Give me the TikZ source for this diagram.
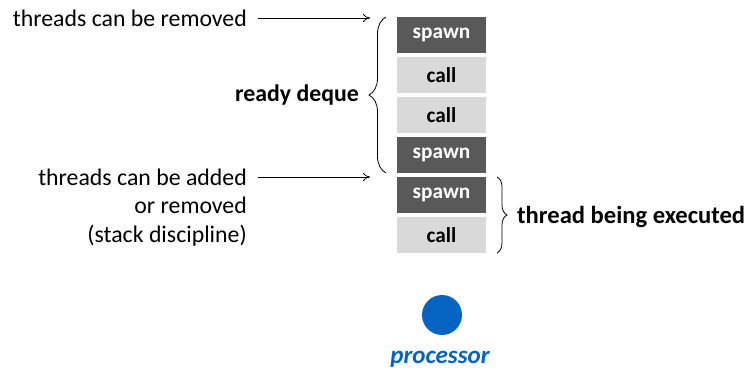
\documentclass[tikz,border=0pt]{standalone}
\usepackage{fontspec}
\setmainfont{Carlito}
\usetikzlibrary{decorations.pathreplacing,arrows.meta}
\definecolor{darkbox}{HTML}{595959}
\definecolor{lightbox}{HTML}{D9D9D9}
\definecolor{procblue}{HTML}{0563C1}
\begin{document}
\begin{tikzpicture}[x=1pt,y=-1pt,
  stackbox/.style={minimum width=89pt,minimum height=36pt,inner sep=0pt,font=\fontsize{21.3}{24}\selectfont\bfseries},
  darkstack/.style={stackbox,fill=darkbox,text=white},
  lightstack/.style={stackbox,fill=lightbox,text=black},
  lbl/.style={inner sep=0pt,font=\fontsize{23.8}{28.5}\selectfont},
  blbl/.style={inner sep=0pt,font=\fontsize{23.8}{28.5}\selectfont\bfseries},
  arr/.style={-{To[length=7pt,width=8pt]},line width=0.8pt},
  brc/.style={decorate,decoration={brace},line width=0.8pt}]
\useasboundingbox (0,0) rectangle (749,372);
\node[darkstack]  (b1) at (441.5,35)  {spawn};
\node[lightstack] (b2) at (441.5,75)  {call};
\node[lightstack] (b3) at (441.5,115) {call};
\node[darkstack]  (b4) at (441.5,155) {spawn};
\node[darkstack]  (b5) at (441.5,195) {spawn};
\node[lightstack] (b6) at (441.5,235) {call};
% left brace
\coordinate (lbB) at (386,173);
\coordinate (lbT) at (386,17);
\draw[brc,decoration={amplitude=17pt}] (lbB) -- (lbT);
\node[blbl,anchor=base east] (rd) at (359,101) {ready deque};
% right brace
\coordinate (rbT) at (497,177);
\coordinate (rbB) at (497,253);
\draw[brc,decoration={amplitude=10pt}] (rbT) -- (rbB);
\node[blbl,anchor=base west,font=\fontsize{24.6}{28.5}\selectfont\bfseries] (tbe) at (517,223) {thread being executed};
% left texts
\node[lbl,anchor=base east] (t1) at (247,26) {threads can be removed};
\node[lbl,anchor=base east,align=right] (t2) at (247,242) {threads can be added\\or removed\\(stack discipline)};
\coordinate (a1e) at (370,18);
\coordinate (a2e) at (370,177);
\draw[arr] ([xshift=11pt]t1.east |- a1e) -- (a1e);
\draw[arr] ([xshift=11pt]t1.east |- a2e) -- (a2e);
% processor
\node[circle,fill=procblue,minimum size=40pt,inner sep=0pt] (proc) at (442,315) {};
\node[inner sep=0pt,anchor=base,text=procblue,font=\fontsize{25}{28}\selectfont\bfseries\itshape] (pl) at (440,363) {processor};
\end{tikzpicture}
\end{document}
